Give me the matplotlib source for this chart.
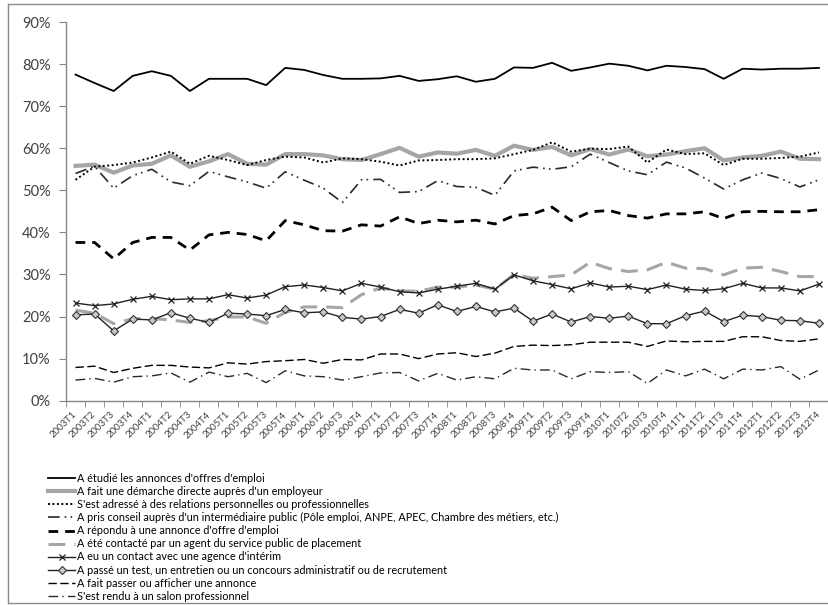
import matplotlib
matplotlib.use("Agg")
import matplotlib.pyplot as plt
from matplotlib.lines import Line2D

plt.rcParams["font.family"] = ["Lato", "DejaVu Sans"]

quarters = [f"{y}T{q}" for y in range(2003, 2013) for q in range(1, 5)]

annonces_etudiees = [77.5, 75.5, 73.6, 77.2, 78.3, 77.2, 73.6, 76.5, 76.5, 76.5,
                     75.0, 79.1, 78.6, 77.4, 76.5, 76.5, 76.6, 77.2, 76.0, 76.4,
                     77.1, 75.8, 76.5, 79.2, 79.1, 80.3, 78.4, 79.2, 80.1, 79.6,
                     78.5, 79.6, 79.3, 78.8, 76.5, 78.9, 78.7, 78.9, 78.9, 79.1]
demarche_directe = [55.8, 56.1, 54.2, 55.9, 56.3, 58.3, 55.6, 56.9, 58.6, 56.3,
                    56.1, 58.6, 58.6, 58.3, 57.4, 57.2, 58.6, 60.1, 58.0, 59.0,
                    58.7, 59.6, 58.2, 60.6, 59.6, 60.3, 58.3, 59.8, 58.5, 59.7,
                    58.1, 58.5, 59.3, 60.0, 57.1, 57.8, 58.2, 59.2, 57.5, 57.4]
relations = [52.5, 55.6, 56.0, 56.6, 57.8, 59.2, 56.3, 58.2, 57.2, 56.0,
             57.2, 58.0, 57.8, 56.6, 57.6, 57.4, 56.8, 55.9, 57.1, 57.2,
             57.4, 57.4, 57.6, 58.6, 59.6, 61.4, 59.2, 59.9, 59.8, 60.4,
             56.6, 59.7, 58.6, 58.8, 56.0, 57.5, 57.5, 57.7, 58.0, 59.0]
intermediaire_public = [54.0, 55.7, 50.5, 53.5, 55.0, 52.0, 51.1, 54.5, 53.2, 52.0,
                        50.5, 54.4, 52.4, 50.5, 47.1, 52.5, 52.6, 49.5, 49.7, 52.3,
                        50.9, 50.7, 48.8, 54.6, 55.5, 55.0, 55.6, 58.6, 56.6, 54.6,
                        53.7, 56.7, 55.3, 52.9, 50.3, 52.5, 54.1, 52.8, 50.8, 52.5]
repondu_annonce = [37.6, 37.6, 33.7, 37.6, 38.8, 38.8, 35.8, 39.4, 40.0, 39.5,
                   38.0, 42.8, 41.8, 40.4, 40.3, 41.8, 41.5, 43.7, 42.1, 42.9,
                   42.5, 42.9, 42.0, 44.0, 44.4, 46.0, 42.8, 44.9, 45.2, 44.0,
                   43.4, 44.4, 44.4, 44.9, 43.3, 44.9, 45.0, 44.9, 44.9, 45.4]
contacte_agent = [21.5, 20.8, 18.3, 19.5, 19.5, 19.2, 18.6, 19.0, 19.9, 19.9,
                  18.4, 21.0, 22.3, 22.3, 22.1, 25.2, 26.8, 26.1, 26.0, 27.0,
                  27.0, 27.5, 26.5, 30.0, 29.1, 29.5, 29.9, 32.9, 31.4, 30.7,
                  31.1, 32.9, 31.5, 31.4, 29.9, 31.5, 31.7, 30.7, 29.5, 29.5]
agence_interim = [23.2, 22.6, 23.0, 24.1, 24.8, 24.0, 24.2, 24.2, 25.2, 24.4,
                  25.1, 27.1, 27.5, 26.9, 26.1, 27.9, 27.0, 25.9, 25.6, 26.5,
                  27.2, 27.9, 26.5, 29.9, 28.5, 27.6, 26.6, 28.0, 27.0, 27.2,
                  26.4, 27.5, 26.5, 26.2, 26.6, 27.9, 26.8, 26.8, 26.1, 27.7]
test_entretien = [20.4, 20.6, 16.6, 19.4, 19.2, 20.9, 19.6, 18.6, 20.8, 20.6,
                  20.2, 21.7, 20.9, 21.1, 19.8, 19.4, 20.0, 21.7, 20.8, 22.8,
                  21.2, 22.4, 21.1, 22.0, 18.9, 20.6, 18.7, 20.0, 19.6, 20.1,
                  18.3, 18.3, 20.2, 21.3, 18.8, 20.3, 20.0, 19.1, 19.0, 18.4]
passer_annonce = [7.9, 8.2, 6.7, 7.7, 8.4, 8.4, 8.0, 7.8, 9.0, 8.7,
                  9.3, 9.5, 9.8, 8.9, 9.8, 9.7, 11.1, 11.1, 10.0, 11.1,
                  11.4, 10.5, 11.3, 12.9, 13.2, 13.1, 13.3, 13.9, 13.9, 13.9,
                  12.9, 14.2, 14.0, 14.1, 14.1, 15.2, 15.2, 14.3, 14.1, 14.7]
salon_pro = [4.9, 5.3, 4.4, 5.7, 5.9, 6.6, 4.4, 6.8, 5.7, 6.5,
             4.3, 7.1, 5.9, 5.7, 4.9, 5.7, 6.6, 6.7, 4.7, 6.5,
             4.9, 5.7, 5.2, 7.7, 7.3, 7.3, 5.2, 6.9, 6.7, 6.9,
             4.1, 7.3, 5.9, 7.5, 5.2, 7.5, 7.3, 8.1, 5.1, 7.3]

labels = [
    "A étudié les annonces d'offres d'emploi",
    "A fait une démarche directe auprès d'un employeur",
    "S'est adressé à des relations personnelles ou professionnelles",
    "A pris conseil auprès d'un intermédiaire public (Pôle emploi, ANPE, APEC, Chambre des métiers, etc.)",
    "A répondu à une annonce d'offre d'emploi",
    "A été contacté par un agent du service public de placement",
    "A eu un contact avec une agence d'intérim",
    "A passé un test, un entretien ou un concours administratif ou de recrutement",
    "A fait passer ou afficher une annonce",
    "S'est rendu à un salon professionnel",
]

series = [annonces_etudiees, demarche_directe, relations, intermediaire_public,
          repondu_annonce, contacte_agent, agence_interim, test_entretien,
          passer_annonce, salon_pro]

styles = [
    dict(color="black", lw=1.3),
    dict(color="#a6a6a6", lw=3.0),
    dict(color="black", lw=1.4, dashes=(1, 1.3)),
    dict(color="#2a2a2a", lw=1.2, dashes=(7, 3, 1, 2.5, 1, 3)),
    dict(color="black", lw=2.0, dashes=(3.5, 2.5)),
    dict(color="#a6a6a6", lw=2.2, dashes=(5.5, 3)),
    dict(color="#222222", lw=1.0, marker="x", ms=5, mew=0.9),
    dict(color="#222222", lw=1.0, marker="D", ms=3.8, mfc="#c8c8c8", mec="#333333", mew=0.8),
    dict(color="black", lw=1.0, dashes=(6, 2.5)),
    dict(color="#2a2a2a", lw=1.0, dashes=(7, 3, 1, 3)),
]

fig = plt.figure(figsize=(8.29, 6.05), dpi=100)
ax = fig.add_axes([66 / 829, 1 - 400.7 / 605, 762.5 / 829, 378.7 / 605])

x = list(range(len(quarters)))
handles = []
for data, st, lab in zip(series, styles, labels):
    h, = ax.plot(x, data, label=lab, **st)
    handles.append(h)

ax.set_xlim(-0.5, len(quarters) - 0.5)
ax.set_ylim(0, 90)
ax.set_yticks(range(0, 100, 10))
ax.set_yticklabels([f"{v}%" for v in range(0, 100, 10)])
ax.set_xticks(x)
ax.set_xticklabels(quarters, rotation=45, ha="right", va="center", rotation_mode="anchor")
ax.set_xticks([i + 0.5 for i in range(-1, len(quarters))], minor=True)

ax.tick_params(axis="y", labelsize=10.5, labelcolor="#404040", length=5, color="#868686", pad=6)
ax.tick_params(axis="x", which="major", labelsize=6.9, labelcolor="#404040", length=0, pad=9)
ax.tick_params(axis="x", which="minor", length=4, color="#868686")

for side in ["top", "right"]:
    ax.spines[side].set_visible(False)
for side in ["left", "bottom"]:
    ax.spines[side].set_color("#868686")
    ax.spines[side].set_linewidth(1.0)

fig.legend(handles=handles, loc="upper left", bbox_to_anchor=(48 / 829, 1 - 473 / 605),
           frameon=False, fontsize=7.85, handlelength=2.5, handletextpad=0.15,
           labelspacing=0.19, borderpad=0, borderaxespad=0, labelcolor="black")

# cadre extérieur
fr = dict(color="#8c8c8c", lw=1.0, transform=fig.transFigure)
fig.add_artist(Line2D([8 / 829, 8 / 829], [1 - 4 / 605, 1 - 603 / 605], **fr))
fig.add_artist(Line2D([8 / 829, 1], [1 - 4 / 605, 1 - 4 / 605], **fr))
fig.add_artist(Line2D([8 / 829, 1], [1 - 603 / 605, 1 - 603 / 605], **fr))

fig.savefig("out.png", dpi=100)
